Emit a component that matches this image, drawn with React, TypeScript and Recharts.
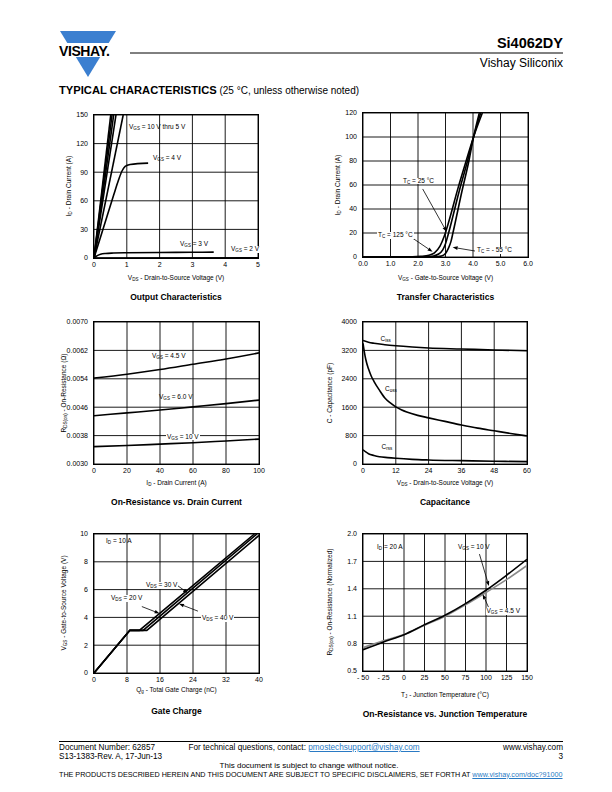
import React from "react";
import { CartesianGrid, Line, LineChart, ReferenceLine, XAxis, YAxis } from "recharts";

type Pt = { x: number; y: number };

const FONT = '"Liberation Sans", Arial, Helvetica, sans-serif';

// Output characteristics
const outXTicks = [0, 1, 2, 3, 4, 5];
const outYTicks = [0, 30, 60, 90, 120, 150];
const outVgs10: Pt[] = [{ x: 0, y: 0 }, { x: 0.51, y: 150 }];
const outVgs8: Pt[] = [{ x: 0, y: 0 }, { x: 0.55, y: 150 }];
const outVgs7: Pt[] = [{ x: 0, y: 0 }, { x: 0.6, y: 150 }];
const outVgs6: Pt[] = [{ x: 0, y: 0 }, { x: 0.67, y: 150 }];
const outVgs5: Pt[] = [{ x: 0, y: 0 }, { x: 0.89, y: 150 }];
const outVgs4: Pt[] = [
  { x: 0, y: 0 }, { x: 0.3, y: 33 }, { x: 0.6, y: 66 }, { x: 0.75, y: 82 }, { x: 0.85, y: 91 },
  { x: 0.95, y: 96 }, { x: 1.1, y: 98 }, { x: 1.65, y: 99.5 },
];
const outVgs3: Pt[] = [
  { x: 0, y: 0 }, { x: 0.1, y: 2.5 }, { x: 0.2, y: 4 }, { x: 0.35, y: 4.8 }, { x: 0.6, y: 5.2 },
  { x: 1, y: 5.5 }, { x: 2, y: 5.8 }, { x: 3, y: 6 }, { x: 3.65, y: 6.2 },
];
const outVgs2: Pt[] = [{ x: 0, y: 0 }, { x: 5, y: 0.2 }];

// Transfer characteristics
const trXTicks = [0, 1, 2, 3, 4, 5, 6];
const trYTicks = [0, 20, 40, 60, 80, 100, 120];
const trTc125: Pt[] = [
  { x: 0, y: 0 }, { x: 1.8, y: 0.1 }, { x: 2.1, y: 0.5 }, { x: 2.4, y: 1.5 }, { x: 2.6, y: 3.5 },
  { x: 2.8, y: 9 }, { x: 2.95, y: 17 }, { x: 3.1, y: 28 }, { x: 3.45, y: 57 }, { x: 3.75, y: 80 },
  { x: 4.02, y: 100 }, { x: 4.34, y: 120 },
];
const trTc25: Pt[] = [
  { x: 0, y: 0 }, { x: 2.2, y: 0.1 }, { x: 2.5, y: 0.6 }, { x: 2.75, y: 2.5 }, { x: 2.9, y: 6 },
  { x: 3.0, y: 11 }, { x: 3.1, y: 19 }, { x: 3.5, y: 55 }, { x: 3.8, y: 80 }, { x: 4.02, y: 100 },
  { x: 4.28, y: 120 },
];
const trTcM55: Pt[] = [
  { x: 0, y: 0 }, { x: 2.6, y: 0.1 }, { x: 2.85, y: 0.8 }, { x: 3.0, y: 3 }, { x: 3.1, y: 7 },
  { x: 3.2, y: 13 }, { x: 3.27, y: 20 }, { x: 3.6, y: 55 }, { x: 3.85, y: 80 }, { x: 4.02, y: 100 },
  { x: 4.23, y: 120 },
];

// On-resistance vs drain current
const rdXTicks = [0, 20, 40, 60, 80, 100];
const rdYTicks = [0.003, 0.0038, 0.0046, 0.0054, 0.0062, 0.007];
const rdVgs45: Pt[] = [
  { x: 0, y: 0.00542 }, { x: 20, y: 0.00553 }, { x: 40, y: 0.00566 }, { x: 60, y: 0.00581 },
  { x: 80, y: 0.00596 }, { x: 100, y: 0.00613 },
];
const rdVgs6: Pt[] = [
  { x: 0, y: 0.00436 }, { x: 20, y: 0.00444 }, { x: 40, y: 0.00452 }, { x: 60, y: 0.00461 },
  { x: 80, y: 0.0047 }, { x: 100, y: 0.0048 },
];
const rdVgs10: Pt[] = [
  { x: 0, y: 0.00349 }, { x: 20, y: 0.00352 }, { x: 40, y: 0.00356 }, { x: 60, y: 0.0036 },
  { x: 80, y: 0.00365 }, { x: 100, y: 0.0037 },
];

// Capacitance
const capXTicks = [0, 12, 24, 36, 48, 60];
const capYTicks = [0, 800, 1600, 2400, 3200, 4000];
const capCiss: Pt[] = [
  { x: 0, y: 3480 }, { x: 2, y: 3430 }, { x: 4, y: 3400 }, { x: 8, y: 3360 }, { x: 12, y: 3330 },
  { x: 18, y: 3295 }, { x: 24, y: 3268 }, { x: 36, y: 3240 }, { x: 48, y: 3212 }, { x: 60, y: 3190 },
];
const capCoss: Pt[] = [
  { x: 0, y: 3400 }, { x: 0.5, y: 3150 }, { x: 1, y: 2950 }, { x: 2, y: 2680 }, { x: 3, y: 2480 },
  { x: 4, y: 2330 }, { x: 6, y: 2080 }, { x: 8, y: 1860 }, { x: 10, y: 1720 }, { x: 12, y: 1610 },
  { x: 14, y: 1530 }, { x: 16, y: 1465 }, { x: 20, y: 1370 }, { x: 24, y: 1300 }, { x: 30, y: 1200 },
  { x: 36, y: 1100 }, { x: 42, y: 1010 }, { x: 48, y: 935 }, { x: 54, y: 860 }, { x: 60, y: 790 },
];
const capCrss: Pt[] = [
  { x: 0, y: 400 }, { x: 1, y: 340 }, { x: 2, y: 290 }, { x: 4, y: 240 }, { x: 6, y: 205 },
  { x: 9, y: 180 }, { x: 12, y: 160 }, { x: 18, y: 130 }, { x: 24, y: 113 }, { x: 36, y: 94 },
  { x: 48, y: 78 }, { x: 60, y: 66 },
];

// Gate charge
const qgXTicks = [0, 8, 16, 24, 32, 40];
const qgYTicks = [0, 2, 4, 6, 8, 10];
const qgVds20: Pt[] = [{ x: 0, y: 0 }, { x: 8.7, y: 3.07 }, { x: 11.0, y: 3.07 }, { x: 38.9, y: 10 }];
const qgVds30: Pt[] = [{ x: 0, y: 0 }, { x: 8.7, y: 3.07 }, { x: 11.9, y: 3.07 }, { x: 39.5, y: 10 }];
const qgVds40: Pt[] = [{ x: 0, y: 0 }, { x: 8.7, y: 3.07 }, { x: 12.8, y: 3.07 }, { x: 40, y: 9.9 }];

// On-resistance vs junction temperature
const tjXTicks = [-50, -25, 0, 25, 50, 75, 100, 125, 150];
const tjYTicks = [0.5, 0.8, 1.1, 1.4, 1.7, 2.0];
const tjVgs10: Pt[] = [
  { x: -50, y: 0.733 }, { x: -25, y: 0.818 }, { x: 0, y: 0.898 }, { x: 25, y: 1.007 }, { x: 50, y: 1.11 },
  { x: 75, y: 1.237 }, { x: 100, y: 1.384 }, { x: 125, y: 1.548 }, { x: 150, y: 1.723 },
];
const tjVgs45: Pt[] = [
  { x: -50, y: 0.755 }, { x: -25, y: 0.83 }, { x: 0, y: 0.9 }, { x: 25, y: 1.0 }, { x: 50, y: 1.1 },
  { x: 75, y: 1.225 }, { x: 100, y: 1.36 }, { x: 125, y: 1.5 }, { x: 150, y: 1.655 },
];

type Series = { data: Pt[]; stroke?: string; width?: number; curve?: "linear" | "monotone" };

const tickStyle = { fontSize: 7, fill: "#000", fontFamily: FONT };

function ArrowShape(p: any) {
  const { x1, y1, x2, y2 } = p;
  const a = Math.atan2(y2 - y1, x2 - x1);
  const L = 5;
  const W = 1.8;
  const bx = x2 - L * Math.cos(a);
  const by = y2 - L * Math.sin(a);
  const pts = `${x2},${y2} ${bx - W * Math.sin(a)},${by + W * Math.cos(a)} ${bx + W * Math.sin(a)},${by - W * Math.cos(a)}`;
  return (
    <g>
      <line x1={x1} y1={y1} x2={bx} y2={by} stroke="#000" strokeWidth={0.8} />
      <polygon points={pts} fill="#000" />
    </g>
  );
}

function Panel(props: {
  left: number; top: number; w: number; h: number;
  xDomain: [number, number]; xTicks: number[]; yDomain: [number, number]; yTicks: number[];
  xFmt?: (v: number) => string; yFmt?: (v: number) => string;
  series: Series[]; arrows?: [Pt, Pt][];
}) {
  const { left, top, w, h, xDomain, xTicks, yDomain, yTicks, xFmt, yFmt, series, arrows = [] } = props;
  return (
    <>
      <div style={{ position: "absolute", left: left - 40, top: top - 8 }}>
        <LineChart width={w + 52} height={h + 28} margin={{ top: 8, right: 12, bottom: 0, left: 0 }}>
          <CartesianGrid stroke="#000" strokeWidth={0.9} />
          <XAxis
            type="number" dataKey="x" domain={xDomain} ticks={xTicks} tickFormatter={xFmt}
            interval={0} allowDataOverflow tick={tickStyle} tickLine={false} axisLine={false}
            height={20} tickSize={3} tickMargin={1}
          />
          <YAxis
            type="number" domain={yDomain} ticks={yTicks} tickFormatter={yFmt}
            interval={0} allowDataOverflow tick={tickStyle} tickLine={false} axisLine={false}
            width={40} tickSize={5} tickMargin={1}
          />
          {series.map((s, i) => (
            <Line
              key={i} data={s.data} dataKey="y" type={s.curve ?? "monotone"}
              stroke={s.stroke ?? "#000"} strokeWidth={s.width ?? 1.6}
              dot={false} activeDot={false} isAnimationActive={false}
            />
          ))}
          {arrows.map((a, i) => (
            <ReferenceLine key={"a" + i} segment={a} shape={ArrowShape} ifOverflow="visible" />
          ))}
        </LineChart>
      </div>
      <div
        style={{
          position: "absolute", left: left - 1, top: top - 1, width: w + 2, height: h + 2,
          border: "1.6px solid #000", boxSizing: "border-box", pointerEvents: "none",
        }}
      />
    </>
  );
}

const S = ({ c }: { c: string }) => (
  <sub style={{ fontSize: "0.7em", verticalAlign: "-0.3em", lineHeight: 0 }}>{c}</sub>
);

function Txt({
  x, y, size = 6.5, bg = false, bold = false, center = false, right = false, color = "#000", children,
}: any) {
  let transform = "";
  if (center) transform = "translateX(-50%)";
  if (right) transform = "translateX(-100%)";
  return (
    <div
      style={{
        position: "absolute", left: x, top: y, fontSize: size, lineHeight: 1, whiteSpace: "nowrap",
        fontWeight: bold ? "bold" : "normal", background: bg ? "#fff" : "transparent",
        padding: bg ? "0 1px" : 0, transform, color,
      }}
    >
      {children}
    </div>
  );
}

function YLabel({ x, y, children }: any) {
  return (
    <div
      style={{
        position: "absolute", left: x, top: y, fontSize: 6.5, lineHeight: 1, whiteSpace: "nowrap",
        transform: "translate(-50%,-50%) rotate(-90deg)",
      }}
    >
      {children}
    </div>
  );
}

const link = { color: "#2a7ac4", textDecoration: "underline" };

export default function App() {
  return (
    <div
      style={{
        position: "absolute", left: 0, top: 0, width: 612, height: 792, background: "#fff",
        fontFamily: FONT, color: "#000", overflow: "hidden",
      }}
    >
      {/* header */}
      <svg width={612} height={100} style={{ position: "absolute", left: 0, top: 0 }}>
        <polygon points="60,31 116,31 88,77" fill="#3b7fd0" />
        <rect x={56} y={43} width={64} height={14} fill="#fff" />
        <line x1={130} y1={53} x2={563} y2={53} stroke="#000" strokeWidth={1} />
      </svg>
      <Txt x={59} y={44} size={14} bold>
        <span style={{ letterSpacing: -0.4 }}>VISHAY.</span>
      </Txt>
      <Txt x={563} y={36} size={14.5} bold right>Si4062DY</Txt>
      <Txt x={563} y={56.5} size={12} right>Vishay Siliconix</Txt>
      <Txt x={59} y={85} size={10}>
        <b style={{ fontWeight: 900, fontSize: 11.2 }}>TYPICAL CHARACTERISTICS</b> (25 °C, unless otherwise noted)
      </Txt>

      {/* Output characteristics */}
      <Panel
        left={94} top={115} w={164} h={143} xDomain={[0, 5]} xTicks={outXTicks}
        yDomain={[0, 150]} yTicks={outYTicks}
        series={[
          { data: outVgs10, curve: "linear" }, { data: outVgs8, curve: "linear" },
          { data: outVgs7, curve: "linear" }, { data: outVgs6, curve: "linear" },
          { data: outVgs5, curve: "linear" }, { data: outVgs4 }, { data: outVgs3 },
          { data: outVgs2, curve: "linear" },
        ]}
      />
      <Txt x={129} y={123.5}>V<S c="GS" /> = 10 V thru 5 V</Txt>
      <Txt x={153} y={155}>V<S c="GS" /> = 4 V</Txt>
      <Txt x={180} y={241}>V<S c="GS" /> = 3 V</Txt>
      <Txt x={230} y={246} bg>V<S c="GS" /> = 2 V</Txt>
      <YLabel x={69} y={186}>I<S c="D" /> - Drain Current (A)</YLabel>
      <Txt x={176} y={275} center>V<S c="DS" /> - Drain-to-Source Voltage (V)</Txt>
      <Txt x={176} y={292.5} size={8.5} bold center>Output Characteristics</Txt>

      {/* Transfer characteristics */}
      <Panel
        left={363} top={113} w={165} h={144} xDomain={[0, 6]} xTicks={trXTicks}
        yDomain={[0, 120]} yTicks={trYTicks} xFmt={(v) => v.toFixed(1)}
        series={[{ data: trTc125 }, { data: trTc25 }, { data: trTcM55 }]}
        arrows={[
          [{ x: 2.17, y: 56.7 }, { x: 3.04, y: 21.1 }],
          [{ x: 1.81, y: 15.6 }, { x: 2.53, y: 4.4 }],
          [{ x: 4.07, y: 5 }, { x: 3.26, y: 8.1 }],
        ]}
      />
      <Txt x={402} y={177.5} bg>T<S c="C" /> = 25 °C</Txt>
      <Txt x={377} y={232} bg>T<S c="C" /> = 125 °C</Txt>
      <Txt x={476} y={247} bg>T<S c="C" /> = - 55 °C</Txt>
      <YLabel x={338} y={185}>I<S c="D" /> - Drain Current (A)</YLabel>
      <Txt x={445.5} y={275} center>V<S c="GS" /> - Gate-to-Source Voltage (V)</Txt>
      <Txt x={445.5} y={292.5} size={8.5} bold center>Transfer Characteristics</Txt>

      {/* On-resistance vs drain current */}
      <Panel
        left={94} top={322} w={165} h={142} xDomain={[0, 100]} xTicks={rdXTicks}
        yDomain={[0.003, 0.007]} yTicks={rdYTicks} yFmt={(v) => v.toFixed(4)}
        series={[{ data: rdVgs45 }, { data: rdVgs6 }, { data: rdVgs10 }]}
      />
      <Txt x={152} y={353}>V<S c="GS" /> = 4.5 V</Txt>
      <Txt x={159} y={394}>V<S c="GS" /> = 6.0 V</Txt>
      <Txt x={166} y={433.5} bg>V<S c="GS" /> = 10 V</Txt>
      <YLabel x={64} y={393}>R<S c="DS(on)" /> - On-Resistance (Ω)</YLabel>
      <Txt x={176.5} y={479.5} center>I<S c="D" /> - Drain Current (A)</Txt>
      <Txt x={176.5} y={497.5} size={8.5} bold center>On-Resistance vs. Drain Current</Txt>

      {/* Capacitance */}
      <Panel
        left={363} top={322} w={164} h={142} xDomain={[0, 60]} xTicks={capXTicks}
        yDomain={[0, 4000]} yTicks={capYTicks}
        series={[{ data: capCiss }, { data: capCoss }, { data: capCrss }]}
      />
      <Txt x={380.5} y={335.5}>C<S c="iss" /></Txt>
      <Txt x={385} y={385.5}>C<S c="oss" /></Txt>
      <Txt x={381.5} y={444}>C<S c="rss" /></Txt>
      <YLabel x={330} y={393}>C - Capacitance (pF)</YLabel>
      <Txt x={445} y={479.5} center>V<S c="DS" /> - Drain-to-Source Voltage (V)</Txt>
      <Txt x={445} y={497.5} size={8.5} bold center>Capacitance</Txt>

      {/* Gate charge */}
      <Panel
        left={94} top={534} w={165} h={139} xDomain={[0, 40]} xTicks={qgXTicks}
        yDomain={[0, 10]} yTicks={qgYTicks}
        series={[
          { data: qgVds20, curve: "linear" }, { data: qgVds30, curve: "linear" },
          { data: qgVds40, curve: "linear" },
        ]}
        arrows={[
          [{ x: 20.2, y: 6.3 }, { x: 22.8, y: 5.75 }],
          [{ x: 11.6, y: 4.78 }, { x: 15.9, y: 4.28 }],
          [{ x: 25.2, y: 4.45 }, { x: 20.6, y: 4.98 }],
        ]}
      />
      <Txt x={106} y={538}>I<S c="D" /> = 10 A</Txt>
      <Txt x={145} y={582} bg>V<S c="DS" /> = 30 V</Txt>
      <Txt x={110} y={595} bg>V<S c="DS" /> = 20 V</Txt>
      <Txt x={201} y={615} bg>V<S c="DS" /> = 40 V</Txt>
      <YLabel x={64} y={603}>V<S c="GS" /> - Gate-to-Source Voltage (V)</YLabel>
      <Txt x={176.5} y={687} center>Q<S c="g" /> - Total Gate Charge (nC)</Txt>
      <Txt x={176.5} y={707} size={8.5} bold center>Gate Charge</Txt>

      {/* On-resistance vs junction temperature */}
      <Panel
        left={363} top={534} w={164} h={137} xDomain={[-50, 150]} xTicks={tjXTicks}
        yDomain={[0.5, 2.0]} yTicks={tjYTicks} yFmt={(v) => v.toFixed(1)}
        xFmt={(v) => (v < 0 ? `- ${-v}` : `${v}`)}
        series={[{ data: tjVgs45, stroke: "#8a8a8a" }, { data: tjVgs10 }]}
        arrows={[
          [{ x: 92, y: 1.78 }, { x: 103.5, y: 1.43 }],
          [{ x: 103, y: 1.2 }, { x: 96, y: 1.34 }],
        ]}
      />
      <Txt x={377} y={543.5}>I<S c="D" /> = 20 A</Txt>
      <Txt x={458} y={543.5}>V<S c="GS" /> = 10 V</Txt>
      <Txt x={485.5} y={608} bg>V<S c="GS" /> = 4.5 V</Txt>
      <YLabel x={330} y={602}>R<S c="DS(on)" /> - On-Resistance (Normalized)</YLabel>
      <Txt x={445} y={691.5} center>T<S c="J" /> - Junction Temperature (°C)</Txt>
      <Txt x={445} y={709.5} size={8.5} bold center>On-Resistance vs. Junction Temperature</Txt>

      {/* footer */}
      <svg width={612} height={10} style={{ position: "absolute", left: 0, top: 737 }}>
        <line x1={59} y1={4.5} x2={563} y2={4.5} stroke="#000" strokeWidth={1} />
      </svg>
      <Txt x={59} y={744} size={8.2}>Document Number: 62857</Txt>
      <Txt x={59} y={753} size={8.2}>S13-1383-Rev. A, 17-Jun-13</Txt>
      <Txt x={188.5} y={744} size={8.2}>
        For technical questions, contact: <span style={link}>pmostechsupport@vishay.com</span>
      </Txt>
      <Txt x={563} y={744} size={8.2} right>www.vishay.com</Txt>
      <Txt x={563} y={753} size={8.2} right>3</Txt>
      <Txt x={309} y={762} size={8} center>This document is subject to change without notice.</Txt>
      <Txt x={59} y={770.5} size={7.2}>
        THE PRODUCTS DESCRIBED HEREIN AND THIS DOCUMENT ARE SUBJECT TO SPECIFIC DISCLAIMERS, SET FORTH AT{" "}
        <span style={link}>www.vishay.com/doc?91000</span>
      </Txt>
    </div>
  );
}
